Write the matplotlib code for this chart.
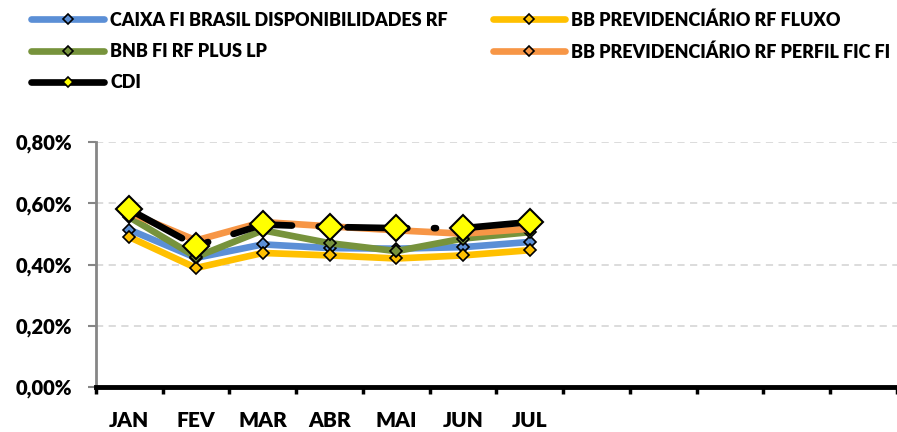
import matplotlib.pyplot as plt
from matplotlib.lines import Line2D
from matplotlib.ticker import FuncFormatter, FixedLocator

plt.rcParams['font.family'] = ['Lato', 'DejaVu Sans']
plt.rcParams['font.weight'] = 'heavy'

# ---------------- Data ----------------
months = ['JAN', 'FEV', 'MAR', 'ABR', 'MAI', 'JUN', 'JUL', '', '', '', '', '']
caixa = [0.514, 0.422, 0.466, 0.454, 0.452, 0.457, 0.474]
fluxo = [0.490, 0.389, 0.438, 0.430, 0.420, 0.430, 0.447]
bnb = [0.555, 0.425, 0.512, 0.470, 0.444, 0.485, 0.506]
perfil = [0.570, 0.479, 0.539, 0.525, 0.512, 0.501, 0.517]
cdi = [0.580, 0.461, 0.531, 0.523, 0.519, 0.519, 0.539]

names = ['CAIXA FI BRASIL DISPONIBILIDADES RF', 'BB PREVIDENCIÁRIO RF FLUXO',
         'BNB FI RF PLUS LP', 'BB PREVIDENCIÁRIO RF PERFIL FIC FI', 'CDI']
colors = ['#5B8FD6', '#FFC000', '#77933C', '#F79646', '#000000']

# ---------------- Plot ----------------
fig = plt.figure(figsize=(8.97, 4.32), dpi=100)
ax = fig.add_axes([0.107, 0.104, 0.893, 0.567])

x = list(range(len(caixa)))
series = [caixa, fluxo, bnb, perfil]
for i in range(4):
    ax.plot(x, series[i], color=colors[i], lw=4.8, solid_capstyle='round',
            marker='D', markersize=6.5, markerfacecolor=colors[i],
            markeredgecolor='black', markeredgewidth=1.2, zorder=2 + i)

ax.plot(x, cdi, color='black', lw=4.8, linestyle=(0, (9, 4, 0.3, 4)),
        dash_capstyle='round', marker='D', markersize=13,
        markerfacecolor='#FFFF00', markeredgecolor='black',
        markeredgewidth=1.5, zorder=10)

ax.set_xlim(-0.5, 11.5)
ax.set_ylim(0, 0.8)
ax.set_yticks([0, 0.2, 0.4, 0.6, 0.8])
ax.yaxis.set_major_formatter(FuncFormatter(lambda v, p: ('%.2f%%' % v).replace('.', ',')))
ax.yaxis.grid(True, color='#D9D9D9', linestyle=(0, (4, 3)), lw=1.3)
ax.set_axisbelow(True)

ax.set_xticks(range(12))
ax.set_xticklabels(months)
ax.xaxis.set_minor_locator(FixedLocator([k - 0.5 for k in range(13)]))
ax.tick_params(axis='x', which='major', length=0, pad=17, labelsize=15)
ax.tick_params(axis='x', which='minor', length=5, width=2.5, color='black')
ax.tick_params(axis='y', length=6, width=1.5, color='#868686', pad=11, labelsize=14.5)

for s in ['top', 'right']:
    ax.spines[s].set_visible(False)
ax.spines['left'].set_color('#868686')
ax.spines['left'].set_linewidth(2)
ax.spines['bottom'].set_color('black')
ax.spines['bottom'].set_linewidth(3.5)
ax.spines['bottom'].set_zorder(20)

# legend proxies
handles = []
for i in [0, 2, 4, 1, 3]:
    face = '#FFFF00' if i == 4 else colors[i]
    handles.append(Line2D([], [], color=colors[i], lw=4.8, solid_capstyle='round',
                          marker='D', markersize=5, markerfacecolor=face,
                          markeredgecolor='black', markeredgewidth=1.2))
labels = [names[i] for i in [0, 2, 4, 1, 3]]
fig.legend(handles, labels, ncol=2, loc='upper left', bbox_to_anchor=(0.017, 1.012),
           frameon=False, fontsize=13, handlelength=4.0, handletextpad=0.35,
           columnspacing=2.5, labelspacing=0.8)

fig.savefig('out.png', dpi=100)
